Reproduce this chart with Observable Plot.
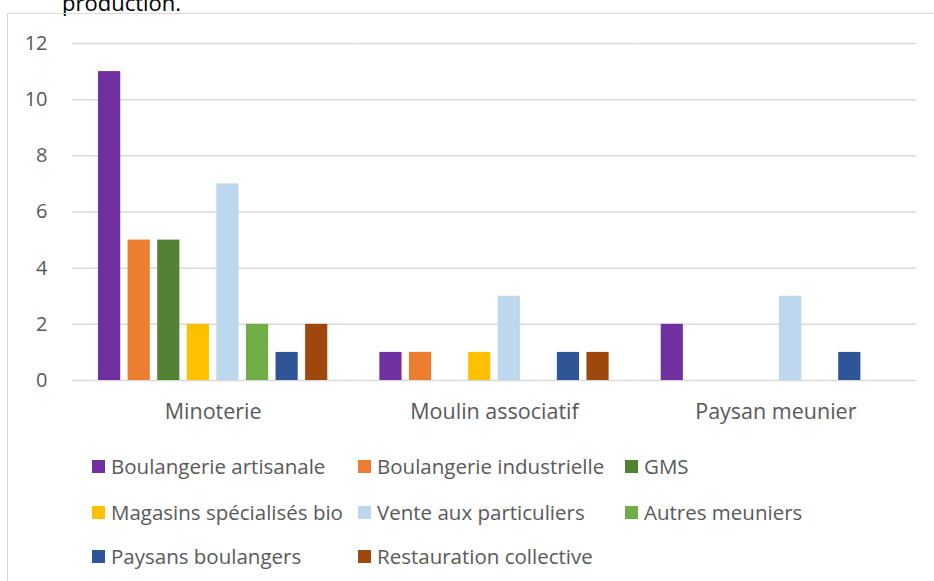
<!DOCTYPE html>
<html>
<head>
<meta charset="utf-8">
<script src="https://cdn.jsdelivr.net/npm/d3@7"></script>
<script src="https://cdn.jsdelivr.net/npm/@observablehq/plot@0.6"></script>
<style>
  html, body { margin: 0; padding: 0; background: #fff; }
  body { width: 934px; height: 581px; overflow: hidden; position: relative; font-family: "Open Sans", sans-serif; }
  #title { position: absolute; left: 62px; top: -9.5px; font-size: 22px; line-height: 22px; color: #000; white-space: nowrap; }
  #frame { position: absolute; left: 7px; top: 13px; width: 1000px; height: 700px; border: 1.5px solid #d9d9d9; box-sizing: border-box; }
  #chart { position: absolute; left: 0; top: 0; }
  #legend { position: absolute; left: 0; top: 0; }
  .item { position: absolute; display: flex; align-items: center; font-size: 20.5px; color: #595959; white-space: nowrap; height: 28px; }
  .sw { width: 13px; height: 13px; margin-right: 6px; flex: none; }
</style>
</head>
<body>
<div id="title">production.</div>
<div id="frame"></div>
<div id="chart"></div>
<div id="legend"></div>
<script>
const categories = ["Minoterie", "Moulin associatif", "Paysan meunier"];
const series = ["Boulangerie artisanale", "Boulangerie industrielle", "GMS", "Magasins spécialisés bio", "Vente aux particuliers", "Autres meuniers", "Paysans boulangers", "Restauration collective"];
const minoterie = [11, 5, 5, 2, 7, 2, 1, 2];
const moulinAssociatif = [1, 1, 0, 1, 3, 0, 1, 1];
const paysanMeunier = [2, 0, 0, 0, 3, 0, 1, 0];
const colors = ["#7030A0", "#ED7D31", "#548235", "#FFC000", "#BDD7EE", "#70AD47", "#2F5597", "#9E480E"];
const yTicks = [0, 2, 4, 6, 8, 10, 12];

const valuesByCategory = [minoterie, moulinAssociatif, paysanMeunier];
const data = [];
categories.forEach((c, i) => {
  series.forEach((s, j) => {
    data.push({ category: c, series: s, value: valuesByCategory[i][j] });
  });
});

const chart = Plot.plot({
  width: 934,
  height: 430,
  marginLeft: 72,
  marginRight: 18,
  marginTop: 43,
  marginBottom: 50,
  style: { fontFamily: "Open Sans", fontSize: "20px", color: "#595959", background: "transparent" },
  fx: { domain: categories, padding: 0, round: false, label: null },
  x: { domain: series, paddingInner: 0.25, paddingOuter: 0.88, round: false, axis: null },
  y: { domain: [0, 12], label: null },
  color: { domain: series, range: colors },
  marks: [
    Plot.ruleY(yTicks, { stroke: "#d9d9d9", strokeWidth: 1.5 }),
    Plot.barY(data.filter(d => d.value > 0), { fx: "category", x: "series", y: "value", fill: "series" }),
    Plot.axisY({ ticks: yTicks, tickSize: 0, tickPadding: 25, label: null, fontSize: 20 }),
    Plot.axisFx({ anchor: "bottom", tickSize: 0, tickPadding: 23, label: null, fontSize: 21.5 })
  ]
});
document.getElementById("chart").appendChild(chart);

const legend = document.getElementById("legend");
const colX = [92, 358, 625];
const rowY = [466, 512, 556];
series.forEach((s, i) => {
  const el = document.createElement("div");
  el.className = "item";
  el.style.left = colX[i % 3] + "px";
  el.style.top = (rowY[Math.floor(i / 3)] - 14) + "px";
  const sw = document.createElement("span");
  sw.className = "sw";
  sw.style.background = colors[i];
  const tx = document.createElement("span");
  tx.textContent = s;
  el.appendChild(sw);
  el.appendChild(tx);
  legend.appendChild(el);
});
</script>
</body>
</html>
